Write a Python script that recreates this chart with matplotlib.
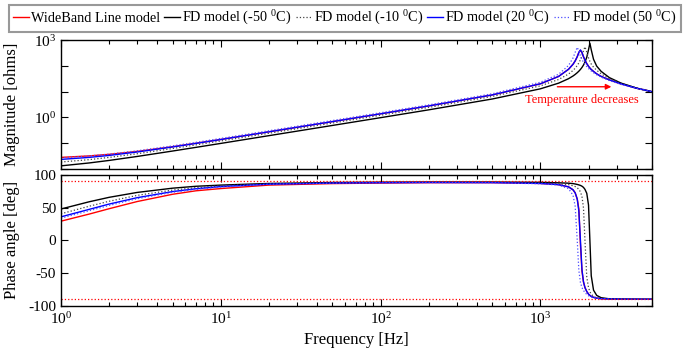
import matplotlib
matplotlib.use("Agg")
import matplotlib.pyplot as plt
from matplotlib.ticker import NullLocator, LogLocator

plt.rcParams['font.family'] = 'Liberation Serif'
plt.rcParams['mathtext.fontset'] = 'custom'
plt.rcParams['mathtext.rm'] = 'Liberation Serif'
plt.rcParams['mathtext.it'] = 'Liberation Serif:italic'
plt.rcParams['axes.unicode_minus'] = False

# Frequency points [Hz]
freq = [1, 1.5, 2, 3, 5, 7, 10, 20, 50, 100, 200, 500, 1000, 1300, 1500, 1600, 1650,
        1700, 1740, 1780, 1820, 1860, 1900, 1950, 2000, 2040, 2080, 2150, 2250, 2400,
        2700, 3200, 4000, 5000]

# Impedance magnitude [ohms]
mag_wb = [0.0281, 0.0321, 0.0369, 0.0481, 0.0732, 0.0997, 0.140, 0.277, 0.690, 1.384,
          2.80, 7.49, 20.2, 39.0, 74.0, 116, 156, 226, 335, 400, 325, 225, 167, 123,
          96.5, 82.4, 72.5, 61.0, 49.0, 39.0, 28.6, 19.8, 13.6, 10.0]
mag_m50 = [0.0132, 0.0171, 0.0214, 0.0306, 0.0497, 0.0690, 0.0981, 0.196, 0.489, 0.979,
           1.97, 5.20, 12.9, 21.4, 31.9, 40.6, 46.6, 54.4, 62.4, 72.9, 87.1, 108, 140,
           217, 423, 759, 423, 180, 98.0, 61.1, 35.1, 21.4, 13.7, 9.76]
mag_m10 = [0.0186, 0.0230, 0.0281, 0.0390, 0.0623, 0.0861, 0.122, 0.243, 0.607, 1.216,
           2.45, 6.52, 16.8, 29.7, 48.3, 66.7, 81.4, 103, 131, 173, 245, 387, 550,
           342, 204, 150, 118, 89.0, 67.8, 48.9, 32.1, 21.1, 14.1, 10.2]
mag_p20 = [0.0235, 0.0281, 0.0335, 0.0456, 0.0716, 0.0984, 0.139, 0.277, 0.690, 1.384,
           2.80, 7.49, 20.2, 39.0, 74.0, 116, 156, 228, 331, 417, 331, 228, 167, 123,
           96.5, 82.4, 72.5, 61.0, 49.0, 39.0, 28.6, 19.8, 13.6, 10.0]
mag_p50 = [0.0271, 0.0320, 0.0377, 0.0507, 0.0790, 0.108, 0.153, 0.304, 0.759, 1.52,
           3.07, 8.29, 23.2, 47.4, 104, 204, 336, 525, 379, 242, 176, 140, 112, 93.6,
           78.9, 70.3, 63.4, 54.3, 45.3, 36.6, 26.9, 19.1, 13.4, 9.90]

# Impedance phase [deg]
ph_wb = [29.4, 40.2, 48.4, 59.4, 70.5, 75.8, 79.2, 84.5, 86.8, 87.6, 88.2, 88.2, 87.0,
         85.2, 81.8, 77.3, 72.7, 63.2, 48.0, -6.0, -47.0, -63.5, -72.0, -78.0, -82.0,
         -84.0, -85.5, -87.0, -88.2, -89.0, -89.5, -89.7, -89.8, -89.9]
ph_m50 = [48.0, 59.0, 65.8, 73.3, 79.8, 82.7, 84.5, 87.0, 88.5, 89.0, 89.2, 89.2, 88.7,
          88.0, 87.4, 86.8, 86.2, 85.5, 84.8, 84.0, 82.8, 81.0, 78.0, 72.0, 54.0, 0.0,
          -54.0, -76.0, -84.0, -87.5, -89.2, -89.6, -89.8, -89.9]
ph_m10 = [40.7, 52.2, 59.8, 68.8, 76.9, 80.6, 83.4, 86.5, 88.0, 88.5, 88.8, 88.8, 88.0,
          86.8, 85.2, 83.5, 82.3, 80.4, 78.0, 74.2, 67.0, 49.7, 0.0, -55.8, -72.0,
          -78.5, -82.0, -85.5, -87.8, -89.0, -89.5, -89.7, -89.8, -89.9]
ph_p20 = [36.0, 47.4, 55.5, 65.3, 74.6, 78.9, 82.2, 85.9, 87.6, 88.2, 88.5, 88.3, 87.0,
          85.2, 81.8, 77.3, 72.7, 63.2, 44.7, 0.0, -44.7, -63.2, -72.0, -78.0, -82.0,
          -84.0, -85.5, -87.0, -88.2, -89.0, -89.5, -89.7, -89.8, -89.9]
ph_p50 = [34.0, 45.3, 53.4, 63.7, 73.5, 78.0, 81.6, 85.8, 87.5, 88.0, 88.3, 88.0, 86.5,
          84.5, 79.1, 68.9, 52.3, 0.0, -45.9, -64.2, -72.1, -76.4, -79.5, -82.5, -84.5,
          -85.5, -86.5, -87.5, -88.5, -89.2, -89.6, -89.8, -89.9, -89.9]

labels = ['WideBand Line model', 'FD model (-50 $^{0}$C)', 'FD model (-10 $^{0}$C)',
          'FD model (20 $^{0}$C)', 'FD model (50 $^{0}$C)']
# colour, linestyle, linewidth
styles = [('red', '-', 1.0), ('black', '-', 1.0), ('#444444', ':', 0.9),
          ('blue', '-', 1.0), ('#4d4dff', ':', 0.9)]
mags = [mag_wb, mag_m50, mag_m10, mag_p20, mag_p50]
phases = [ph_wb, ph_m50, ph_m10, ph_p20, ph_p50]

fig = plt.figure(figsize=(6.93, 3.52), dpi=100)
ax1 = fig.add_axes([0.088, 0.520, 0.853, 0.366])
ax2 = fig.add_axes([0.088, 0.131, 0.853, 0.372])

handles = []
for (c, ls, lw), m, p, lab in zip(styles, mags, phases, labels):
    h, = ax1.plot(freq, m, color=c, linestyle=ls, linewidth=lw, label=lab)
    ax2.plot(freq, p, color=c, linestyle=ls, linewidth=lw)
    handles.append(h)

ax2.axhline(90, color='red', linestyle=':', linewidth=0.9)
ax2.axhline(-90, color='red', linestyle=':', linewidth=0.9)

# magnitude axes
ax1.set_xscale('log')
ax1.set_yscale('log')
ax1.set_xlim(1, 5000)
ax1.set_ylim(1e-2, 1e3)
ax1.set_yticks([1e-2, 1e-1, 1, 10, 100, 1000])
ax1.set_yticklabels(['', '', '$10^{0}$', '', '', '$10^{3}$'])
ax1.yaxis.set_minor_locator(NullLocator())
ax1.tick_params(axis='x', labelbottom=False)
ax1.set_ylabel('Magnitude [ohms]', fontsize=12)

ax1.annotate('', xy=(2780, 15.5), xytext=(1277, 15.5),
             arrowprops=dict(arrowstyle='-|>', color='red', lw=1.0, mutation_scale=8,
                             shrinkA=0, shrinkB=0))
ax1.text(1830, 4.7, 'Temperature decreases', color='red', ha='center', va='center',
         fontsize=9)

# phase axes
ax2.set_xscale('log')
ax2.set_xlim(1, 5000)
ax2.set_ylim(-100, 100)
ax2.set_yticks([-100, -50, 0, 50, 100])
ax2.set_xticks([1, 10, 100, 1000])
ax2.set_xticklabels(['$10^{0}$', '$10^{1}$', '$10^{2}$', '$10^{3}$'])
ax2.xaxis.set_minor_locator(LogLocator(base=10, subs=range(2, 10)))
ax2.set_ylabel('Phase angle [deg]', fontsize=12)
ax2.set_xlabel('Frequency [Hz]', fontsize=12)

for ax in (ax1, ax2):
    ax.tick_params(which='both', direction='in', top=True, right=True, labelsize=11,
                   width=0.8)
    ax.tick_params(which='major', length=5)
    ax.tick_params(which='minor', length=3)
    ax.yaxis.set_label_coords(-0.07, 0.5)
    for s in ax.spines.values():
        s.set_linewidth(1.0)
ax2.xaxis.set_label_coords(0.5, -0.2)

leg = fig.legend(handles, labels, loc='center', bbox_to_anchor=(0.4977, 0.948), ncol=5,
                 frameon=True, fancybox=False, edgecolor='gray', fontsize=10.3,
                 handlelength=1.1, handletextpad=0.15, columnspacing=0.3, borderpad=0.3,
                 borderaxespad=0)
leg.get_frame().set_linewidth(1.5)

fig.savefig('out.png', dpi=100)
